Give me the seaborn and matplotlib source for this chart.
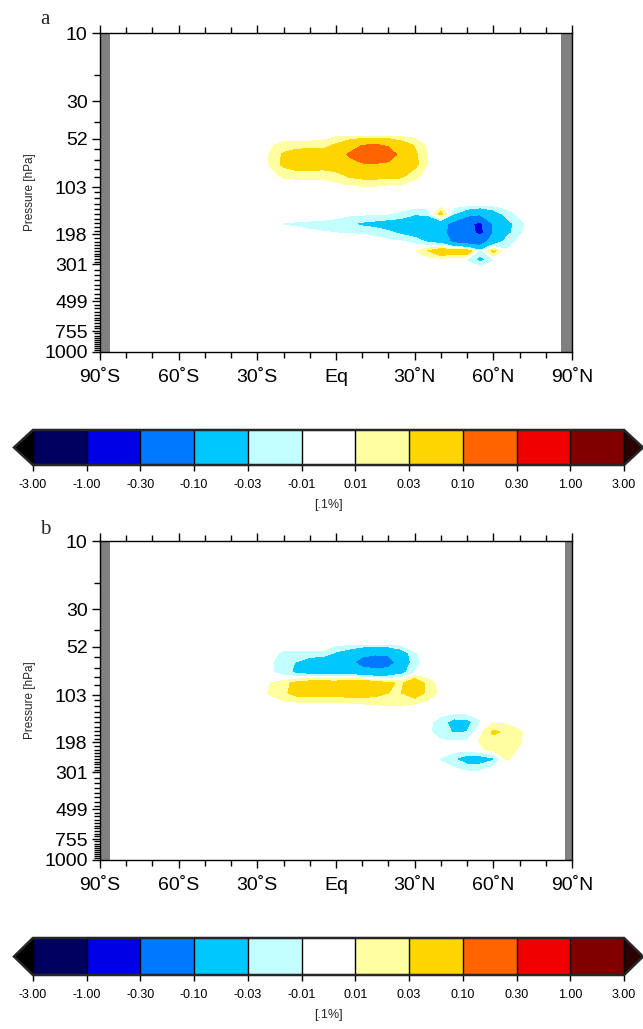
import numpy as np
import matplotlib
matplotlib.use("Agg")
import matplotlib.pyplot as plt
from matplotlib.colors import ListedColormap, BoundaryNorm
import seaborn as sns

# ---------------- data ----------------
contour_levels = [-3.0, -1.0, -0.3, -0.1, -0.03, -0.01, 0.01, 0.03, 0.1, 0.3, 1.0, 3.0]
level_colors = ["#00005f", "#0000e6", "#0078ff", "#00c8ff", "#c4ffff", "#ffffff",
                "#ffffa0", "#ffd500", "#ff6400", "#f00000", "#800000"]
under_color = "#000000"
over_color = "#2a0000"

y_tick_values = [10, 30, 52, 103, 198, 301, 499, 755, 1000]
y_tick_labels = ["10", "30", "52", "103", "198", "301", "499", "755", "1000"]
x_tick_values = [-90, -60, -30, 0, 30, 60, 90]
x_tick_labels = ["90˚S", "60˚S", "30˚S", "Eq", "30˚N", "60˚N", "90˚N"]

# coverage of the data in latitude (outside: missing -> grey)
lat_edges_a = [-86.0, 85.5]
lat_edges_b = [-86.0, 87.0]

# full pressure grid (hPa); values are zero outside the active window
pressure_upper = [10, 20, 30, 40]
pressure_active = [50, 57, 65, 75, 87, 100, 115, 132, 150, 172, 195, 220, 250, 282]
pressure_lower = [320, 370, 450, 550, 700, 850, 1000]
lat_active = [-35, -30, -25, -20, -15, -10, -5, 0, 5, 10, 15, 20, 25, 30, 35,
              40, 45, 50, 55, 60, 65, 70, 75]

# panel a: rows = pressure_active, cols = lat_active   [.1%]
values_a = [
    [0, 0, .002, .003, .003, .003, .003, .008, .009, .009, .009, .009, .008, .005, .002, 0, 0, 0, 0, 0, 0, 0, 0],
    [0, .002, .008, .015, .016, .016, .018, .035, .06, .1, .11, .09, .05, .028, .006, 0, 0, 0, 0, 0, 0, 0, 0],
    [0, .003, .011, .034, .05, .055, .05, .06, .11, .15, .18, .15, .07, .036, .009, 0, 0, 0, 0, 0, 0, 0, 0],
    [0, .003, .011, .036, .05, .05, .045, .05, .07, .09, .09, .08, .06, .038, .009, 0, 0, 0, 0, 0, 0, 0, 0],
    [0, .001, .006, .013, .014, .014, .014, .02, .036, .042, .042, .042, .038, .016, .004, 0, 0, 0, 0, 0, 0, 0, 0],
    [0, 0, .002, .004, .004, .004, .004, .006, .009, .011, .011, .01, .008, .004, 0, 0, 0, 0, 0, 0, 0, 0, 0],
    [0, 0, 0, 0, 0, 0, 0, 0, 0, .003, .003, 0, 0, 0, 0, 0, 0, 0, 0, 0, 0, 0, 0],
    [0, 0, 0, 0, 0, 0, 0, 0, 0, 0, 0, 0, 0, 0, 0, 0, -.002, -.005, -.007, -.006, -.003, 0, 0],
    [0, 0, 0, -.002, -.003, -.003, -.004, -.005, -.006, -.007, -.008, -.01, -.015, -.028, -.025, .04, -.03, -.06, -.08, -.05, -.02, -.006, 0],
    [0, 0, 0, -.011, -.012, -.013, -.014, -.016, -.028, -.035, -.04, -.045, -.05, -.055, -.06, -.07, -.13, -.25, -.35, -.09, -.045, -.015, -.003],
    [0, 0, 0, -.004, -.006, -.008, -.009, -.01, -.011, -.012, -.015, -.025, -.035, -.045, -.05, -.07, -.14, -.2, -.36, -.09, -.04, -.012, -.002],
    [0, 0, 0, 0, 0, 0, 0, 0, 0, 0, -.002, -.005, -.008, -.015, -.035, -.05, -.12, -.15, -.15, -.06, -.02, -.006, 0],
    [0, 0, 0, 0, 0, 0, 0, 0, 0, 0, 0, 0, 0, .006, .03, .06, .05, .055, -.02, .04, -.008, -.002, 0],
    [0, 0, 0, 0, 0, 0, 0, 0, 0, 0, 0, 0, 0, 0, 0, 0, -.005, -.012, -.04, -.012, -.003, 0, 0],
]

# panel b
values_b = [
    [0, 0, 0, 0, 0, 0, 0, -.006, -.008, -.009, -.009, -.009, -.006, -.002, 0, 0, 0, 0, 0, 0, 0, 0, 0],
    [0, 0, -.003, -.015, -.015, -.015, -.015, -.035, -.05, -.08, -.09, -.085, -.05, -.012, -.003, 0, 0, 0, 0, 0, 0, 0, 0],
    [0, 0, -.008, -.02, -.032, -.05, -.06, -.06, -.08, -.13, -.15, -.14, -.06, -.015, -.004, 0, 0, 0, 0, 0, 0, 0, 0],
    [0, 0, -.006, -.02, -.036, -.045, -.045, -.05, -.05, -.06, -.07, -.06, -.04, -.01, 0, 0, 0, 0, 0, 0, 0, 0, 0],
    [0, .002, .01, .02, .04, .05, .05, .05, .055, .06, .05, .035, .025, .06, .018, .003, 0, 0, 0, 0, 0, 0, 0],
    [0, .003, .012, .025, .04, .04, .04, .04, .045, .045, .04, .03, .03, .05, .022, .005, 0, 0, 0, 0, 0, 0, 0],
    [0, 0, .003, .006, .007, .008, .008, .009, .01, .011, .012, .013, .013, .011, .006, 0, 0, 0, 0, 0, 0, 0, 0],
    [0, 0, 0, 0, 0, 0, 0, 0, 0, 0, 0, 0, 0, 0, 0, -.004, -.007, -.007, -.004, 0, 0, 0, 0],
    [0, 0, 0, 0, 0, 0, 0, 0, 0, 0, 0, 0, 0, 0, -.004, -.02, -.042, -.04, -.012, .008, .006, .002, 0],
    [0, 0, 0, 0, 0, 0, 0, 0, 0, 0, 0, 0, 0, 0, -.006, -.022, -.032, -.03, .005, .035, .025, .012, .002],
    [0, 0, 0, 0, 0, 0, 0, 0, 0, 0, 0, 0, 0, 0, 0, -.008, -.01, -.008, .012, .02, .02, .012, 0],
    [0, 0, 0, 0, 0, 0, 0, 0, 0, 0, 0, 0, 0, 0, 0, 0, -.003, -.004, .006, .016, .016, .008, 0],
    [0, 0, 0, 0, 0, 0, 0, 0, 0, 0, 0, 0, 0, 0, 0, -.012, -.028, -.05, -.05, -.035, .012, .003, 0],
    [0, 0, 0, 0, 0, 0, 0, 0, 0, 0, 0, 0, 0, 0, 0, -.005, -.01, -.016, -.016, -.006, 0, 0, 0],
]

panel_letters = ["a", "b"]
units_label = "[.1%]"
y_axis_label = "Pressure [hPa]"


def build_field(values, lat_edges):
    lats = np.array([lat_edges[0]] + list(range(-80, 81, 5)) + [lat_edges[1]], dtype=float)
    pres = np.array(pressure_upper + pressure_active + pressure_lower, dtype=float)
    field = np.zeros((len(pres), len(lats)))
    r0 = len(pressure_upper)
    for i, row in enumerate(values):
        for j, lat in enumerate(lat_active):
            k = int(np.argmin(np.abs(lats - lat)))
            field[r0 + i, k] = row[j]
    return lats, pres, field


# ---------------- style ----------------
sns.set_theme(style="ticks")
plt.rcParams["font.family"] = ["Liberation Sans", "DejaVu Sans"]
plt.rcParams["axes.linewidth"] = 1.0
plt.rcParams["axes.unicode_minus"] = False

cmap = ListedColormap(level_colors).with_extremes(under=under_color, over=over_color)
norm = BoundaryNorm(contour_levels, ncolors=len(level_colors))


def fwd(p):
    return np.log(np.clip(np.asarray(p, dtype=float) + 3.0, 1e-6, None))


def inv(y):
    return np.exp(y) - 3.0


minor_p = [20, 41] + [p for p in range(60, 300, 10) if p not in (100, 200)] + \
          [p for p in range(325, 1000, 25) if p not in (500, 750)]

fig = plt.figure(figsize=(6.43, 10.29), dpi=100)
W, H = 643.0, 1029.0

axes_boxes = [(100, 33, 572, 352), (100, 541, 572, 860)]
cbar_boxes = [(14, 430, 643, 465), (14, 938, 643, 975)]
letter_pos = [(45, 20), (45, 530)]
datasets = [(values_a, lat_edges_a), (values_b, lat_edges_b)]

for n in range(2):
    x0, y0, x1, y1 = axes_boxes[n]
    ax = fig.add_axes([x0 / W, 1 - y1 / H, (x1 - x0) / W, (y1 - y0) / H])
    ax.set_facecolor("#808080")
    lats, pres, field = build_field(*datasets[n])
    cs = ax.contourf(lats, pres, field, levels=contour_levels, cmap=cmap, norm=norm,
                     extend="both", antialiased=False)
    ax.set_yscale("function", functions=(fwd, inv))
    ax.set_ylim(1000, 10)
    ax.set_xlim(-90, 90)
    ax.set_yticks(y_tick_values)
    ax.set_yticklabels(y_tick_labels)
    ax.set_yticks(minor_p, minor=True)
    ax.set_xticks(x_tick_values)
    ax.set_xticklabels(x_tick_labels)
    ax.set_xticks(range(-90, 91, 10), minor=True)
    ax.tick_params(axis="x", which="both", direction="out", top=True, bottom=True,
                   labelsize=14, pad=6, colors="black")
    ax.tick_params(axis="y", which="both", direction="out", left=True, right=False,
                   labelsize=14, pad=3, colors="black")
    ax.tick_params(which="major", length=6, width=1)
    ax.tick_params(which="minor", length=4, width=1)
    for s in ax.spines.values():
        s.set_visible(True)
        s.set_color("black")
        s.set_linewidth(1.0)
    ax.set_ylabel(y_axis_label, fontsize=8.5)
    ax.yaxis.set_label_coords(-0.135, 0.5)

    lx, ly = letter_pos[n]
    fig.text(lx / W, 1 - ly / H, panel_letters[n], family=["Liberation Serif", "DejaVu Serif"],
             fontsize=15, ha="center", va="center")

    cx0, cy0, cx1, cy1 = cbar_boxes[n]
    cax = fig.add_axes([cx0 / W, 1 - cy1 / H, (cx1 - cx0) / W, (cy1 - cy0) / H])
    cb = fig.colorbar(cs, cax=cax, orientation="horizontal", spacing="uniform",
                      ticks=contour_levels, drawedges=True, extendfrac=0.032)
    cb.ax.set_xticklabels([f"{v:.2f}" for v in contour_levels])
    cb.ax.tick_params(labelsize=9, length=4, width=1, direction="out", pad=6, colors="black")
    cb.outline.set_linewidth(1.8)
    cb.dividers.set_linewidth(1.0)
    cb.dividers.set_color("black")
    cb.set_label(units_label, fontsize=9, labelpad=6)

fig.savefig("out.png", dpi=100)
